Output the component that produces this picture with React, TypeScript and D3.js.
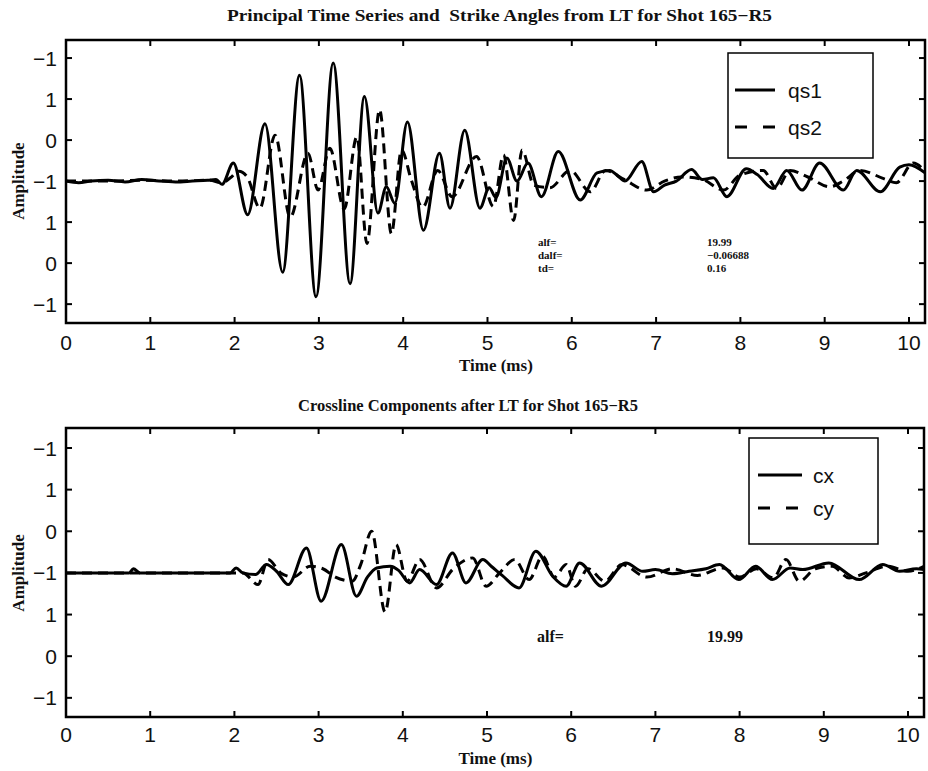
import React from 'react';
import * as d3 from 'd3';

const xTicks = [0, 1, 2, 3, 4, 5, 6, 7, 8, 9, 10];
const yTickValues = [1.5, 1, 0.5, 0, -0.5, -1, -1.5];
const yTickLabels = ['−1', '1', '0', '−1', '1', '0', '−1'];

const topTitle = 'Principal Time Series and  Strike Angles from LT for Shot 165−R5';
const bottomTitle = 'Crossline Components after LT for Shot 165−R5';
const xLabel = 'Time (ms)';
const yLabel = 'Amplitude';

// [time (ms), amplitude]
const qs1: [number, number][] = [
  [0, 0.0], [0.15, -0.02], [0.3, 0.0], [0.5, 0.01], [0.7, -0.01], [0.9, 0.02], [1.1, 0.0],
  [1.3, -0.01], [1.5, 0.0], [1.68, 0.01], [1.78, 0.02], [1.85, -0.04], [1.985, 0.22],
  [2.155, -0.41], [2.36, 0.7], [2.57, -1.11], [2.77, 1.29], [2.966, -1.41], [3.17, 1.44],
  [3.37, -1.25], [3.54, 1.03], [3.7, -0.39], [3.8, -0.07], [3.9, -0.27], [4.05, 0.72],
  [4.24, -0.6], [4.43, 0.34], [4.555, -0.33], [4.73, 0.62], [4.91, -0.33], [5.02, -0.08],
  [5.1, -0.2], [5.23, 0.28], [5.35, 0.0], [5.48, 0.22], [5.64, -0.19], [5.84, 0.36],
  [6.1, -0.23], [6.3, 0.1], [6.45, 0.13], [6.55, 0.06], [6.63, 0.0], [6.83, 0.24],
  [6.97, -0.13], [7.1, -0.05], [7.24, 0.0], [7.42, 0.14], [7.55, 0.02], [7.68, 0.04],
  [7.84, -0.19], [8.07, 0.15], [8.2, 0.08], [8.39, -0.09], [8.55, 0.13], [8.73, -0.11],
  [8.94, 0.22], [9.22, -0.11], [9.38, 0.13], [9.66, -0.13], [9.89, 0.17], [10.0, 0.2],
  [10.19, 0.1],
];

const qs2: [number, number][] = [
  [0, 0.0], [0.2, 0.0], [0.5, 0.0], [0.9, 0.01], [1.3, 0.0], [1.7, 0.01], [1.85, -0.02],
  [1.95, 0.04], [2.05, 0.12], [2.15, 0.05], [2.3, -0.33], [2.48, 0.56], [2.66, -0.44],
  [2.87, 0.34], [2.99, -0.11], [3.13, 0.4], [3.3, -0.34], [3.45, 0.54], [3.57, -0.76],
  [3.72, 0.87], [3.86, -0.64], [3.98, 0.38], [4.1, 0.0], [4.23, -0.32], [4.41, 0.13],
  [4.58, -0.19], [4.87, 0.3], [5.07, -0.31], [5.19, 0.32], [5.31, -0.48], [5.41, 0.38],
  [5.55, -0.05], [5.74, -0.08], [5.98, 0.13], [6.22, -0.13], [6.4, 0.13], [6.62, 0.02],
  [6.89, -0.11], [7.1, 0.0], [7.3, 0.05], [7.55, 0.02], [7.8, -0.11], [7.99, 0.07],
  [8.27, 0.13], [8.43, -0.09], [8.59, 0.13], [8.8, 0.05], [9.06, -0.07], [9.22, 0.0],
  [9.42, 0.13], [9.7, 0.03], [9.85, -0.02], [10.05, 0.22], [10.19, 0.12],
];

const cx: [number, number][] = [
  [0, 0.0], [0.5, 0.0], [0.75, 0.0], [0.8, 0.05], [0.88, 0.0], [1.3, 0.0], [1.7, 0.0],
  [1.95, 0.0], [2.02, 0.06], [2.1, 0.0], [2.25, -0.02], [2.38, 0.1], [2.5, 0.02],
  [2.64, -0.14], [2.855, 0.3], [3.03, -0.34], [3.27, 0.34], [3.45, -0.28], [3.58, -0.05],
  [3.69, 0.06], [3.85, 0.08], [3.95, 0.03], [4.08, -0.12], [4.2, 0.04], [4.4, -0.14],
  [4.59, 0.24], [4.75, -0.12], [4.95, 0.16], [5.05, 0.08], [5.18, -0.03], [5.38, -0.18],
  [5.58, 0.26], [5.78, -0.04], [5.94, -0.16], [6.1, 0.12], [6.36, -0.16], [6.65, 0.12],
  [6.85, 0.02], [7.0, 0.04], [7.2, -0.01], [7.4, 0.02], [7.6, 0.05], [7.76, 0.1],
  [7.99, -0.08], [8.19, 0.08], [8.39, -0.08], [8.6, 0.06], [8.75, 0.04], [9.06, 0.12],
  [9.42, -0.08], [9.7, 0.1], [9.9, 0.02], [10.1, 0.05], [10.19, 0.04],
];

const cy: [number, number][] = [
  [0, 0.0], [0.5, 0.0], [1.0, 0.0], [1.5, 0.0], [1.9, 0.0], [2.1, 0.0], [2.28, -0.14],
  [2.4, 0.16], [2.55, 0.0], [2.7, -0.05], [2.9, 0.08], [3.05, 0.05], [3.2, -0.05],
  [3.4, -0.1], [3.5, 0.1], [3.63, 0.5], [3.79, -0.47], [3.92, 0.34], [4.05, -0.1],
  [4.2, 0.16], [4.4, -0.18], [4.6, 0.05], [4.83, 0.18], [4.99, -0.16], [5.15, 0.0],
  [5.33, 0.16], [5.5, -0.08], [5.66, 0.2], [5.8, -0.05], [5.94, 0.1], [6.05, -0.16],
  [6.2, 0.05], [6.4, -0.1], [6.6, 0.1], [6.9, -0.05], [7.2, 0.05], [7.5, -0.03],
  [7.8, 0.06], [8.0, -0.05], [8.2, 0.05], [8.4, -0.06], [8.55, 0.16], [8.71, -0.1],
  [8.9, 0.05], [9.1, 0.08], [9.3, -0.06], [9.5, 0.0], [9.75, 0.08], [10.0, 0.02],
  [10.19, 0.08],
];

const topSeries = [
  { name: 'qs1', data: qs1, dash: false },
  { name: 'qs2', data: qs2, dash: true },
];
const bottomSeries = [
  { name: 'cx', data: cx, dash: false },
  { name: 'cy', data: cy, dash: true },
];
const topNotesLabels = ['alf=', 'dalf=', 'td='];
const topNotesValues = ['19.99', '−0.06688', '0.16'];
const bottomNotesLabels = ['alf='];
const bottomNotesValues = ['19.99'];

const SERIF = '"Liberation Serif", "Times New Roman", serif';
const SANS = '"Liberation Sans", Arial, Helvetica, sans-serif';

type PanelProps = {
  id: string;
  left: number; right: number; top: number; bottom: number;
  yMin: number; yMax: number;
  title: string; titleY: number; titleX: number; titleLen: number;
  xLabelY: number; xTickY: number;
  series: { name: string; data: [number, number][]; dash: boolean }[];
  legend: { x: number; y: number; w: number; h: number; rows: number[]; lineX0: number; lineX1: number; textX: number };
  notes: { labels: string[]; values: string[]; x1: number; x2: number; ys: number[]; size: number };
};

function Panel(p: PanelProps) {
  const x = d3.scaleLinear().domain([0, 10.19]).range([p.left, p.right]);
  const y = d3.scaleLinear().domain([p.yMin, p.yMax]).range([p.bottom, p.top]);
  const line = d3.line<[number, number]>()
    .x(d => x(d[0]))
    .y(d => y(d[1]))
    .curve(d3.curveMonotoneX);
  const tl = 6;
  return (
    <g>
      <defs>
        <clipPath id={p.id}>
          <rect x={p.left} y={p.top} width={p.right - p.left} height={p.bottom - p.top} />
        </clipPath>
      </defs>
      <text x={p.titleX} y={p.titleY} fontFamily={SERIF} fontWeight="bold" fontSize={16}
        textLength={p.titleLen} lengthAdjust="spacingAndGlyphs" fill="#111"
        style={{ whiteSpace: 'pre' }}>{p.title}</text>
      <g clipPath={`url(#${p.id})`}>
        {p.series.map(s => (
          <path key={s.name} d={line(s.data) || ''} fill="none" stroke="#000" strokeWidth={3}
            strokeDasharray={s.dash ? '10 6' : undefined} strokeLinejoin="round" />
        ))}
      </g>
      <rect x={p.left} y={p.top} width={p.right - p.left} height={p.bottom - p.top}
        fill="none" stroke="#000" strokeWidth={2.5} />
      {xTicks.map(t => (
        <g key={'xt' + t}>
          <line x1={x(t)} x2={x(t)} y1={p.bottom} y2={p.bottom - tl} stroke="#000" strokeWidth={2} />
          <line x1={x(t)} x2={x(t)} y1={p.top} y2={p.top + tl} stroke="#000" strokeWidth={2} />
          <text x={x(t)} y={p.xTickY} textAnchor="middle" fontFamily={SANS} fontSize={21} fill="#111">{t}</text>
        </g>
      ))}
      {yTickValues.map((v, i) => (
        <g key={'yt' + i}>
          <line x1={p.left} x2={p.left + tl} y1={y(v)} y2={y(v)} stroke="#000" strokeWidth={2} />
          <line x1={p.right} x2={p.right - tl} y1={y(v)} y2={y(v)} stroke="#000" strokeWidth={2} />
          <text x={p.left - 9} y={y(v)} dy="0.36em" textAnchor="end" fontFamily={SANS} fontSize={21} fill="#111">{yTickLabels[i]}</text>
        </g>
      ))}
      <text x={x(5.1)} y={p.xLabelY} textAnchor="middle" fontFamily={SERIF} fontWeight="bold" fontSize={17} fill="#111">{xLabel}</text>
      <text transform={`translate(24,${y(0)}) rotate(-90)`} textAnchor="middle" fontFamily={SERIF}
        fontWeight="bold" fontSize={17} fill="#111">{yLabel}</text>
      {p.notes.labels.map((l, i) => (
        <g key={'n' + i}>
          <text x={p.notes.x1} y={p.notes.ys[i]} fontFamily={SERIF} fontWeight="bold" fontSize={p.notes.size} fill="#111">{l}</text>
          <text x={p.notes.x2} y={p.notes.ys[i]} fontFamily={SERIF} fontWeight="bold" fontSize={p.notes.size} fill="#111">{p.notes.values[i]}</text>
        </g>
      ))}
      <rect x={p.legend.x} y={p.legend.y} width={p.legend.w} height={p.legend.h} fill="#fff" stroke="#000" strokeWidth={1.5} />
      {p.series.map((s, i) => (
        <g key={'lg' + s.name}>
          <line x1={p.legend.lineX0} x2={p.legend.lineX1} y1={p.legend.rows[i]} y2={p.legend.rows[i]}
            stroke="#000" strokeWidth={3} strokeDasharray={s.dash ? '12 16' : undefined} />
          <text x={p.legend.textX} y={p.legend.rows[i]} dy="0.36em" fontFamily={SANS} fontSize={21} fill="#111">{s.name}</text>
        </g>
      ))}
    </g>
  );
}

export default function App() {
  return (
    <svg width={928} height={771} style={{ position: 'absolute', left: 0, top: 0, background: '#fff' }}>
      <rect x={0} y={0} width={928} height={771} fill="#fff" />
      <Panel id="clipTop" left={66} right={925} top={40} bottom={323} yMin={-1.73} yMax={1.72}
        title={topTitle} titleX={227} titleY={21} titleLen={545}
        xLabelY={371} xTickY={350}
        series={topSeries}
        legend={{ x: 728, y: 53, w: 145, h: 105, rows: [90, 127], lineX0: 735, lineX1: 775, textX: 788 }}
        notes={{ labels: topNotesLabels, values: topNotesValues, x1: 538, x2: 707, ys: [246, 259, 272], size: 11 }} />
      <Panel id="clipBottom" left={66} right={924} top={428} bottom={717} yMin={-1.73} yMax={1.74}
        title={bottomTitle} titleX={298} titleY={411} titleLen={340}
        xLabelY={764} xTickY={742}
        series={bottomSeries}
        legend={{ x: 749, y: 438, w: 129, h: 106, rows: [475, 508], lineX0: 758, lineX1: 802, textX: 813 }}
        notes={{ labels: bottomNotesLabels, values: bottomNotesValues, x1: 537, x2: 707, ys: [642], size: 16 }} />
    </svg>
  );
}
